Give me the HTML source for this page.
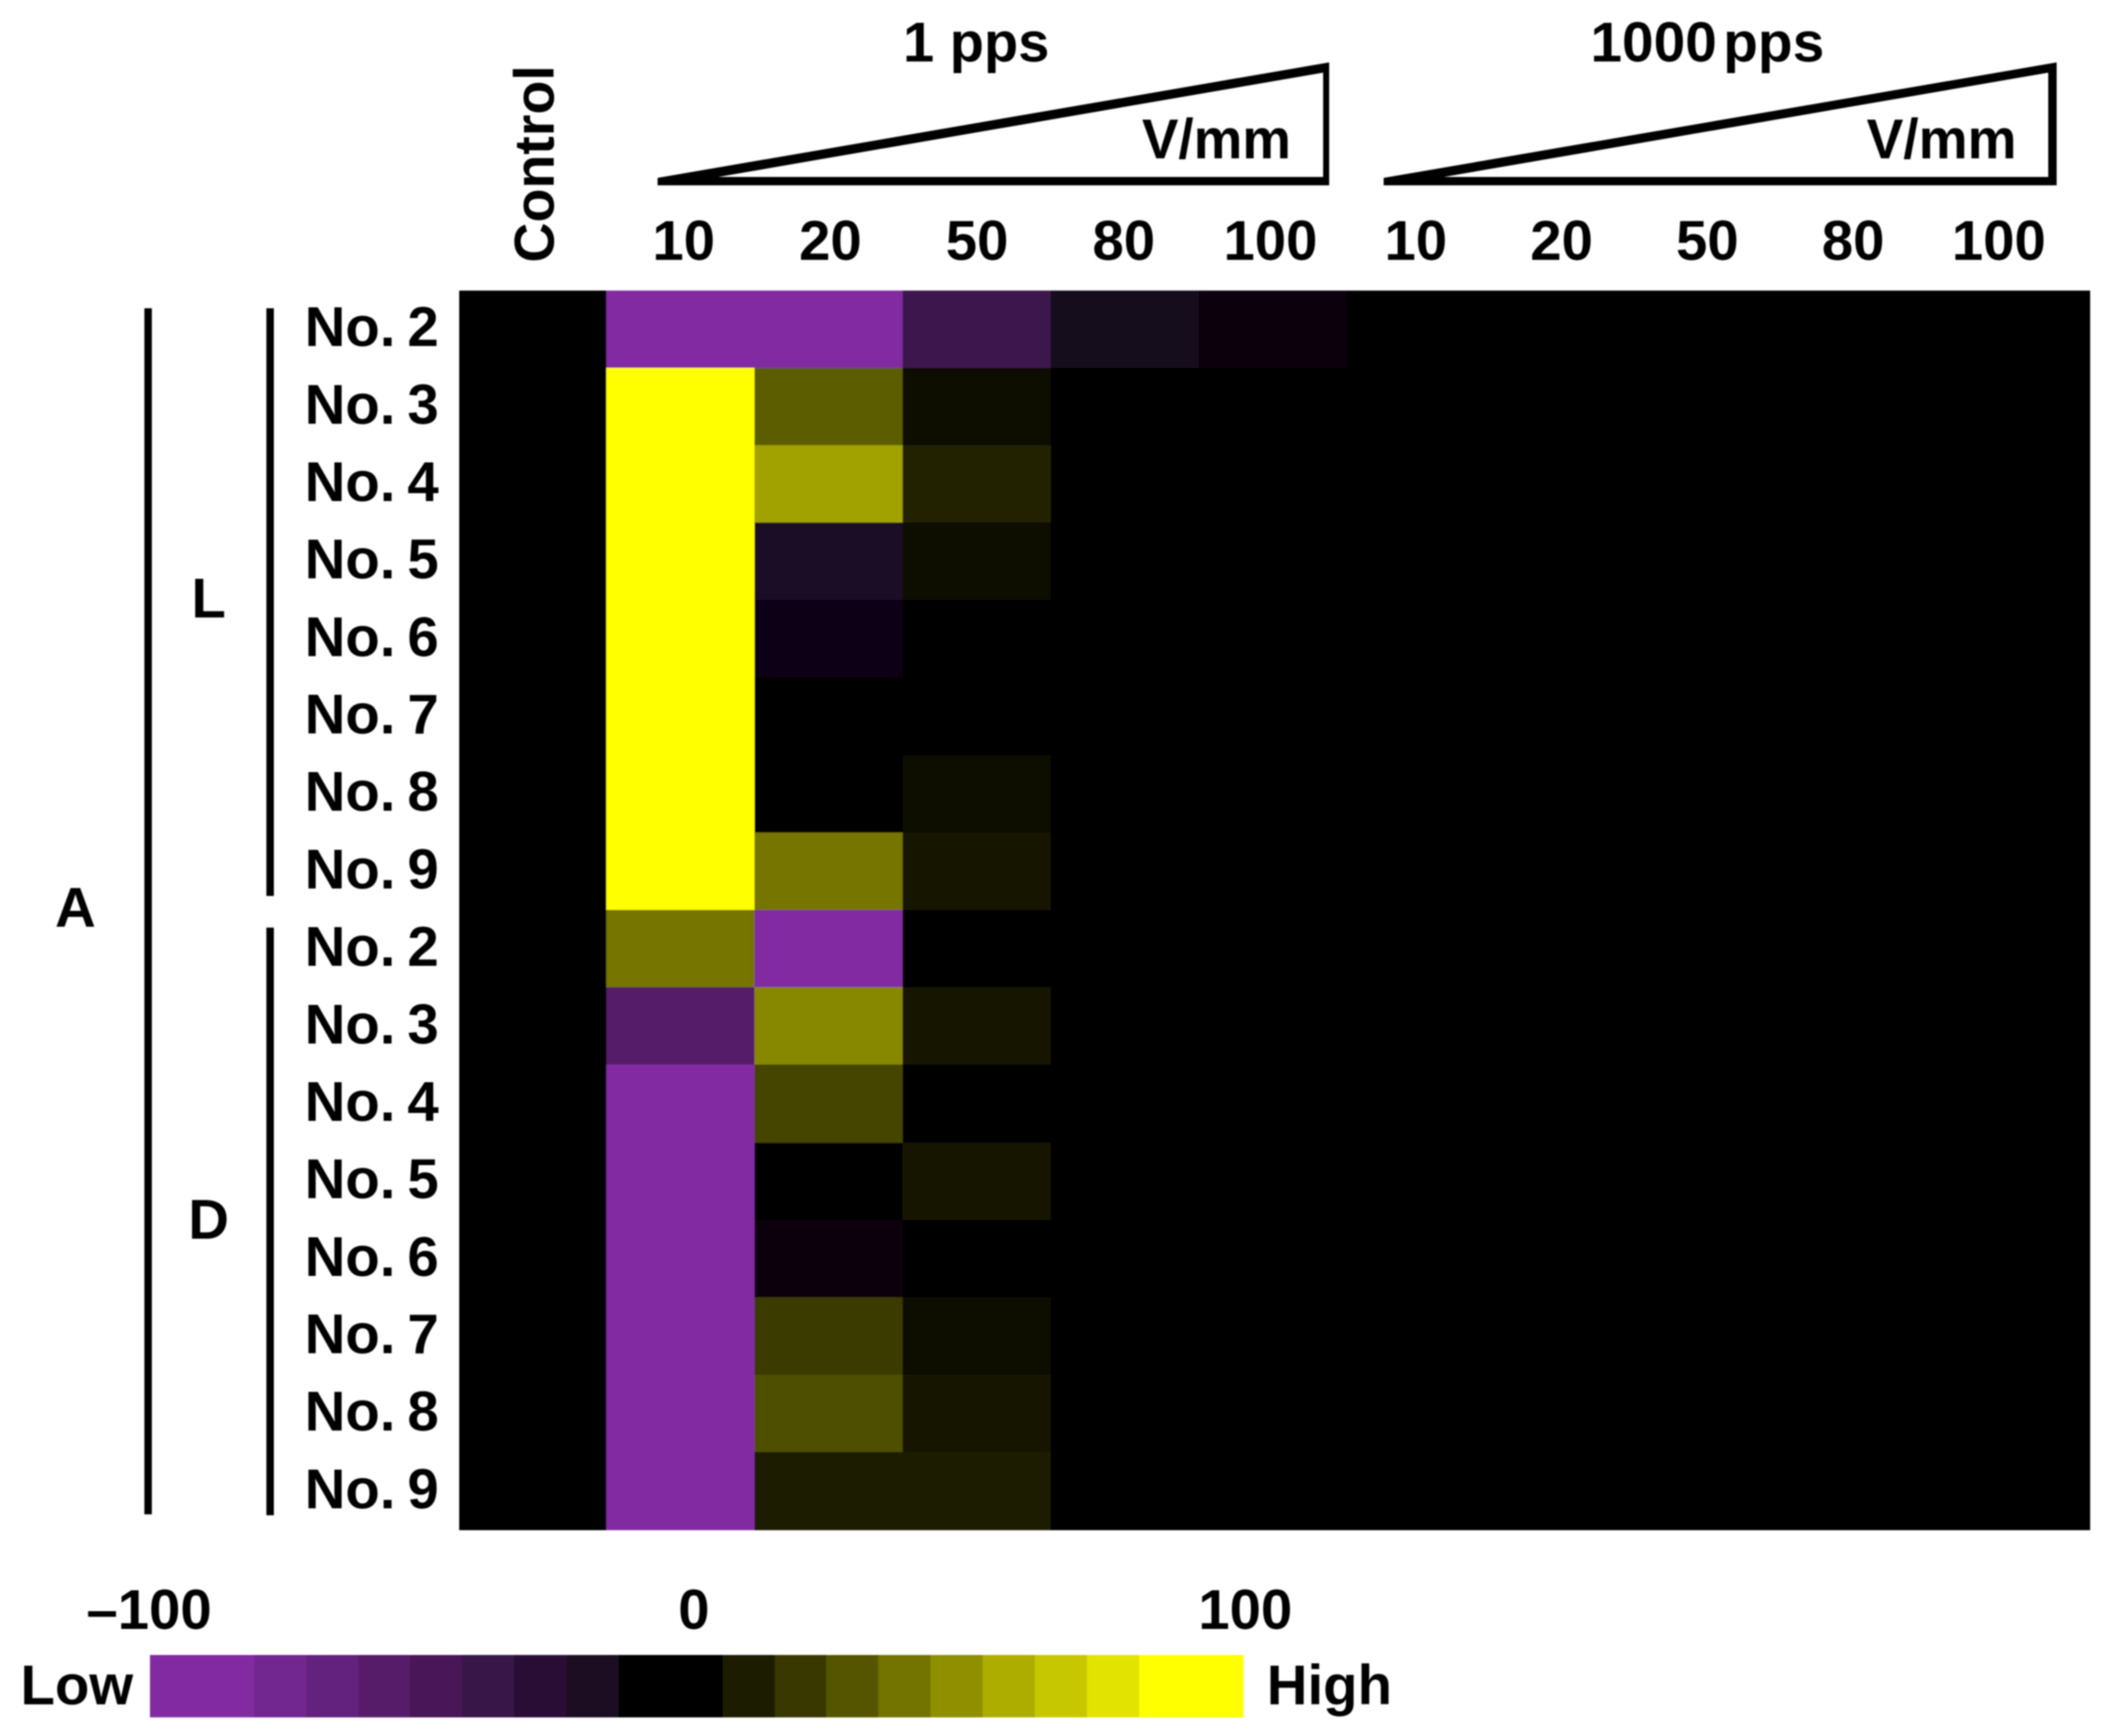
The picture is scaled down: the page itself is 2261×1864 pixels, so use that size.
<!DOCTYPE html>
<html lang="en">
<head>
<meta charset="utf-8">
<title>Heatmap of response by pulse rate and field strength</title>
<style>
  html, body { margin: 0; padding: 0; background: #ffffff; }
  svg { display: block; }
  text { font-family: "Liberation Sans", Arial, sans-serif; font-weight: bold; font-size: 60.5px; fill: #000; }
</style>
</head>
<body>
<svg id="chart" xmlns="http://www.w3.org/2000/svg" width="2261" height="1864" viewBox="0 0 2261 1864">
  <defs>
    <filter id="soft" x="-2%" y="-2%" width="104%" height="104%"><feGaussianBlur stdDeviation="0.7"/></filter>
  </defs>
  <rect x="0" y="0" width="2261" height="1864" fill="#ffffff"/>
  <g filter="url(#soft)">
    <rect x="493" y="312" width="1751" height="1331" fill="#000000"/>
    <g id="heatmap"></g>
    <g id="row-labels"></g>
    <g id="col-labels"></g>
    <g id="legend"></g>

    <text transform="translate(594.5,282) rotate(-90)" x="0" y="0" textLength="212" lengthAdjust="spacingAndGlyphs">Control</text>

    <text x="1048" y="66" text-anchor="middle" textLength="157" lengthAdjust="spacingAndGlyphs">1 pps</text>
    <text x="1833" y="66" text-anchor="middle" word-spacing="-10" textLength="251" lengthAdjust="spacingAndGlyphs">1000 pps</text>

    <path fill="#000" fill-rule="evenodd" d="M706 191 L1427 67 L1427 199 L706 199 Z M771 190 L1420.5 78 L1420.5 190 Z"/>
    <path fill="#000" fill-rule="evenodd" d="M1485.5 191 L2208 67 L2208 199 L1485.5 199 Z M1550 190 L2199 78 L2199 190 Z"/>
    <text x="1386" y="170" text-anchor="end" textLength="160" lengthAdjust="spacingAndGlyphs">V/mm</text>
    <text x="2165" y="170" text-anchor="end" textLength="161" lengthAdjust="spacingAndGlyphs">V/mm</text>

    <rect x="155" y="331" width="8" height="1295" fill="#000"/>
    <rect x="286" y="331" width="8" height="631" fill="#000"/>
    <rect x="286" y="996" width="8" height="631" fill="#000"/>
    <text x="81" y="995" text-anchor="middle">A</text>
    <text x="224" y="663" text-anchor="middle">L</text>
    <text x="224" y="1330" text-anchor="middle">D</text>
  </g>
</svg>
<script>
const rowLabels = ["No. 2","No. 3","No. 4","No. 5","No. 6","No. 7","No. 8","No. 9","No. 2","No. 3","No. 4","No. 5","No. 6","No. 7","No. 8","No. 9"];
const groupTicks = ["10","20","50","80","100"];
const legendTicks = ["\u2013100","0","100"];
const legendValues = [-100,-88,-77,-66,-55,-44,-33,-20,-4,0,10,22,33,45,56,68,78,89,100];

const heatValues = [
  [0,-100,-100,-48,-16,-5,0,0,0,0,0],
  [0,100,36,6,0,0,0,0,0,0,0],
  [0,100,63,13,0.5,0.5,0,0,0,0,0],
  [0,100,-24,6,0.5,0,0,0,0,0,0],
  [0,100,-12,0,0,0,0,0,0,0,0],
  [0,100,0,2,0,0,0,0,0,0,0],
  [0,100,-3,4,0,0,0,0,0,0,0],
  [0,100,46,7,0.5,0,0,0,0,0,0],
  [0,46,-100,0,2,0,0,0,0,0,0],
  [0,-65,53,7,2,0.5,0,0,0,0,0],
  [0,-100,27,2.5,1.5,0.5,0,0,0,0,0],
  [0,-100,0,7,1.5,0.5,0,0,0,0,0],
  [0,-100,-6,1.5,1.5,0.5,0,0,0,0,0],
  [0,-100,23,6.5,1,0.5,0,0,0,0,0],
  [0,-100,31,7,2,0.5,0,0,0,0,0],
  [0,-100,11,11,2,1,0,0,0,0,0]
];

const SVG_NS = "http://www.w3.org/2000/svg";
const plotLeft = 492.5, plotTop = 311.5, cellW = 158.9, cellH = 1331 / 16;

function xAt(col) { return plotLeft + col * cellW; }
function yAt(row) { return plotTop + row * cellH; }
function colorFor(v) {
  const t = Math.min(1, Math.abs(v) / 100);
  if (v < 0) return "rgb(" + Math.round(130 * t) + "," + Math.round(44 * t) + "," + Math.round(162 * t) + ")";
  return "rgb(" + Math.round(255 * t) + "," + Math.round(255 * t) + ",0)";
}
function node(parentId, tag, props) {
  const el = document.createElementNS(SVG_NS, tag);
  for (const k in props) el.setAttribute(k, props[k]);
  document.getElementById(parentId).appendChild(el);
  return el;
}

heatValues.forEach(function (row, r) {
  row.forEach(function (v, c) {
    const x0 = Math.round(xAt(c)), x1 = Math.round(xAt(c + 1));
    const y0 = Math.round(yAt(r)), y1 = Math.round(yAt(r + 1));
    const cell = node("heatmap", "rect", { x: x0, y: y0, width: x1 - x0, height: y1 - y0, fill: colorFor(v) });
    
    
  });
});

rowLabels.forEach(function (label, r) {
  const t = node("row-labels", "text", { x: 471, y: yAt(r) + cellH / 2 + 18.5, "text-anchor": "end", "word-spacing": "-4" });
  t.textContent = label;
  
  
});

[[734, 157.5], [1520, 156.5]].forEach(function (group) {
  groupTicks.forEach(function (label, i) {
    const t = node("col-labels", "text", { x: group[0] + i * group[1], y: 279, "text-anchor": "middle" });
    t.textContent = label;
    
    
  });
});

const legendLeft = 161, legendTop = 1777, legendHeight = 67;
const legendUnit = 1173.5 / (legendValues.length + 2);
let legendUnits = 0;
legendValues.forEach(function (v, i) {
  const span = (i === 0 || i === legendValues.length - 1) ? 2 : 1;
  const x0 = Math.round(legendLeft + legendUnits * legendUnit);
  const x1 = Math.round(legendLeft + (legendUnits + span) * legendUnit);
  const swatch = node("legend", "rect", { x: x0, y: legendTop, width: x1 - x0, height: legendHeight, fill: colorFor(v) });
  
  
  legendUnits += span;
});

[160, 745, 1337].forEach(function (cx, i) {
  const t = node("legend", "text", { x: cx, y: 1749, "text-anchor": "middle" });
  t.textContent = legendTicks[i];
  
  
});

const lowLabel = node("legend", "text", { x: 22, y: 1830 });
lowLabel.textContent = "Low";



const highLabel = node("legend", "text", { x: 1360, y: 1830 });
highLabel.textContent = "High";


</script>
</body>
</html>
